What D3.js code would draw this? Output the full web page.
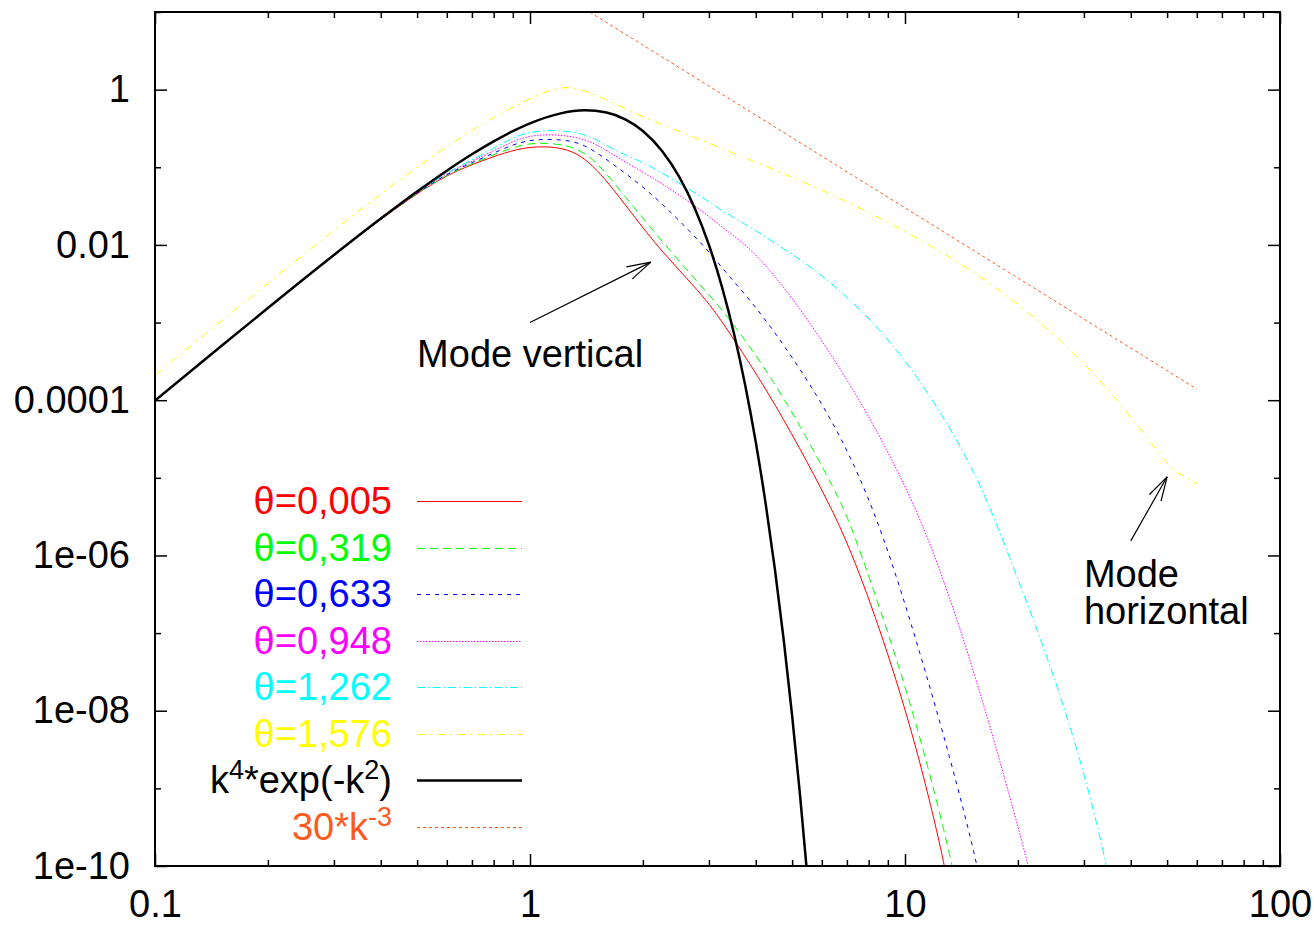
<!DOCTYPE html>
<html>
<head>
<meta charset="utf-8">
<script src="https://cdn.jsdelivr.net/npm/d3@7"></script>
<style>
  body { margin: 0; background: #fff; }
  svg text { font-family: "Liberation Sans", Arial, Helvetica, sans-serif; }
</style>
</head>
<body>
<div id="chart"></div>
<script>
// [k, value] pairs
const theta005 = [[0.1,1.0e-4],[0.15,5.0e-4],[0.2,1.55e-3],[0.3,7.4e-3],[0.4,0.0214],[0.5,0.046],[0.6,0.080],[0.75,0.124],
  [0.9,0.166],[1.0,0.182],[1.1,0.185],[1.225,0.176],[1.36,0.145],[1.509,0.093],[1.665,0.0527],[1.848,0.0273],[2.051,0.0142],
  [2.263,0.00803],[2.512,0.00461],[2.788,0.00267],[3.076,0.00151],[3.477,6.38e-4],[4.285,1.34e-4],[5.248,2.4e-5],[6.233,4.96e-6],
  [7.135,1.26e-6],[8.737,8.9e-8],[10.76,3.4e-9],[12.79,1.03e-10],[13.3,3e-11]]
const theta319 = [[0.1,1.0e-4],[0.15,5.0e-4],[0.2,1.55e-3],[0.3,7.4e-3],[0.4,0.0215],[0.5,0.0465],[0.6,0.081],[0.75,0.128],
  [0.9,0.182],[1.0,0.203],[1.1,0.205],[1.225,0.196],[1.36,0.168],[1.509,0.1146],[1.665,0.0648],[1.848,0.035],[2.051,0.0191],
  [2.263,0.0108],[2.512,0.00598],[2.788,0.00339],[3.076,0.00199],[3.477,9.77e-4],[4.285,2.38e-4],[5.248,4.78e-5],[6.577,6.25e-6],
  [7.135,2.7e-6],[8.737,1.62e-7],[10.76,7.0e-9],[13.43,1.03e-10],[14.0,3e-11]]
const theta633 = [[0.1,1.0e-4],[0.15,5.0e-4],[0.2,1.55e-3],[0.3,7.4e-3],[0.4,0.0216],[0.5,0.047],[0.6,0.083],[0.75,0.132],
  [0.9,0.198],[1.0,0.222],[1.067,0.228],[1.2,0.229],[1.36,0.2075],[1.509,0.154],[1.665,0.1096],[1.848,0.0754],[2.051,0.0504],
  [2.263,0.0329],[2.512,0.0201],[2.788,0.012],[3.076,0.00711],[3.393,0.00396],[3.79,0.00216],[4.181,0.00119],[4.72,5.4e-4],
  [5.815,1.19e-4],[7.135,2.04e-5],[8.737,1.94e-6],[10.76,7.7e-8],[13.2,2.5e-9],[15.66,9.8e-11],[16.3,3e-11]]
const theta948 = [[0.1,1.0e-4],[0.15,5.0e-4],[0.2,1.55e-3],[0.3,7.4e-3],[0.4,0.0217],[0.5,0.0475],[0.6,0.085],[0.75,0.139],
  [0.9,0.217],[1.0,0.255],[1.1,0.263],[1.2,0.261],[1.36,0.24],[1.509,0.1955],[1.665,0.146],[1.848,0.108],[2.051,0.0803],
  [2.263,0.0604],[2.512,0.0431],[2.788,0.0306],[3.076,0.0211],[3.393,0.0144],[3.86,0.0092],[4.72,0.00307],[5.815,7.39e-4],
  [7.135,1.63e-4],[8.737,2.91e-5],[10.96,3.24e-6],[13.2,2.84e-7],[16.14,1.38e-8],[21.28,1.13e-10],[22.6,3e-11]]
const theta1262 = [[0.1,1.0e-4],[0.15,5.0e-4],[0.2,1.55e-3],[0.3,7.4e-3],[0.4,0.0218],[0.5,0.048],[0.6,0.086],[0.75,0.147],
  [0.9,0.244],[1.0,0.285],[1.15,0.306],[1.36,0.279],[1.509,0.227],[1.665,0.1686],[1.848,0.137],[2.051,0.108],[2.263,0.0832],
  [2.512,0.0615],[2.788,0.045],[3.076,0.0333],[3.393,0.0241],[3.86,0.0172],[4.72,0.00906],[5.815,0.00466],[7.135,0.00197],
  [8.737,7.4e-4],[10.76,2.06e-4],[13.2,4.41e-5],[16.14,7.43e-6],[19.89,5.3e-7],[24.36,4.13e-8],[29.84,1.89e-9],[34.57,1.03e-10],[36.0,3e-11]]
const theta1576 = [[0.1,2.1e-4],[0.15,1.04e-3],[0.2,3.2e-3],[0.3,0.0155],[0.4,0.0455],[0.5,0.101],[0.6,0.186],[0.75,0.37],
  [0.9,0.6],[1.0,0.76],[1.1,0.94],[1.2,1.07],[1.3,1.06],[1.4,0.96],[1.537,0.82],[1.882,0.505],[2.319,0.334],[2.84,0.227],
  [3.477,0.153],[4.285,0.1018],[5.248,0.0672],[6.427,0.0437],[7.92,0.0269],[9.7,0.0162],[11.88,0.00934],[14.63,0.00508],
  [17.92,0.00261],[24.36,8.07e-4],[33.11,1.89e-4],[45.0,3.0e-5],[49.96,1.5e-5],[53.1,1.16e-5],[60.07,8.4e-6]]
const gaussK4 = [[0.1,9.90e-5],[0.15,4.95e-4],[0.2,1.537e-3],[0.3,7.40e-3],[0.4,0.02181],[0.5,0.04868],[0.6,0.09042],
  [0.7,0.1471],[0.8,0.2160],[0.9,0.2919],[1.0,0.3679],[1.2,0.4913],[1.4,0.5411],[1.6,0.5066],[1.8,0.4111],[2.0,0.2931],
  [2.25,0.1622],[2.5,0.07541],[2.75,0.02972],[3.0,0.009996],[3.25,2.886e-3],[3.5,7.18e-4],[3.75,1.543e-4],[4.0,2.881e-5],
  [4.25,4.66e-6],[4.5,6.57e-7],[4.75,8.08e-8],[5.0,8.68e-9],[5.25,8.13e-10],[5.5,6.66e-11]]
const powerK3 = [[1.4,10.93],[5,0.24],[20,3.75e-3],[60,1.389e-4]]

const xTicks = [0.1, 1, 10, 100]
const xTickLabels = ["0.1", "1", "10", "100"]
const yTicks = [1e-10, 1e-8, 1e-6, 1e-4, 1e-2, 1]
const yTickLabels = ["1e-10", "1e-08", "1e-06", "0.0001", "0.01", "1"]
const yMinorTicks = [1e-9, 1e-7, 1e-5, 1e-3, 1e-1, 10]

// label parts: [text, superscript?]
const series = [
  { label: [["θ=0,005"]], data: theta005, color: "#ff0000", dash: null, w: 1 },
  { label: [["θ=0,319"]], data: theta319, color: "#00ff00", dash: "8,5", w: 1 },
  { label: [["θ=0,633"]], data: theta633, color: "#0000ff", dash: "4,5", w: 1 },
  { label: [["θ=0,948"]], data: theta948, color: "#ff00ff", dash: "1.5,1.5", w: 1 },
  { label: [["θ=1,262"]], data: theta1262, color: "#00ffff", dash: "8,3,1.5,3", w: 1 },
  { label: [["θ=1,576"]], data: theta1576, color: "#ffff00", dash: "8,5,2,5", w: 1 },
  { label: [["k"], ["4", 1], ["*exp(-k"], ["2", 1], [")"]], data: gaussK4, color: "#000000", dash: null, w: 2.5, exact: true },
  { label: [["30*k"], ["-3", 1]], data: powerK3, color: "#ff5a1e", dash: "3,3", w: 1, exact: true }
]

const W = 1314, H = 925
const mLeft = 155, mRight = 1280, mTop = 12, mBottom = 866

const svg = d3.select("#chart").append("svg")
  .attr("width", W).attr("height", H)
  .style("background", "#fff")

const x = d3.scaleLog().domain([0.1, 100]).range([mLeft, mRight])
const y = d3.scaleLog().domain([1e-10, 10]).range([mBottom, mTop])

const xMinor = []
for (const d of [0.1, 1, 10]) for (let m = 2; m <= 9; m++) xMinor.push(d * m)

// axes, ticks inward on all four sides
function styleAxis(g) {
  g.select(".domain").remove()
  g.selectAll(".tick line").attr("stroke", "#000").attr("stroke-width", 1.5)
  g.selectAll("text").attr("fill", "#000").style("font-size", "38px")
}

svg.append("g").attr("transform", `translate(0,${mBottom})`)
  .call(d3.axisBottom(x).tickValues(xTicks).tickFormat((d, i) => xTickLabels[i]).tickSize(-12).tickPadding(24))
  .call(styleAxis)
svg.append("g").attr("transform", `translate(0,${mBottom})`)
  .call(d3.axisBottom(x).tickValues(xMinor).tickFormat("").tickSize(-6)).call(styleAxis)
svg.append("g").attr("transform", `translate(0,${mTop})`)
  .call(d3.axisTop(x).tickValues(xTicks).tickFormat("").tickSize(-12)).call(styleAxis)
svg.append("g").attr("transform", `translate(0,${mTop})`)
  .call(d3.axisTop(x).tickValues(xMinor).tickFormat("").tickSize(-6)).call(styleAxis)

svg.append("g").attr("transform", `translate(${mLeft},0)`)
  .call(d3.axisLeft(y).tickValues(yTicks).tickFormat((d, i) => yTickLabels[i]).tickSize(-12).tickPadding(25))
  .call(styleAxis)
svg.append("g").attr("transform", `translate(${mLeft},0)`)
  .call(d3.axisLeft(y).tickValues(yMinorTicks).tickFormat("").tickSize(-6)).call(styleAxis)
svg.append("g").attr("transform", `translate(${mRight},0)`)
  .call(d3.axisRight(y).tickValues(yTicks).tickFormat("").tickSize(-12)).call(styleAxis)
svg.append("g").attr("transform", `translate(${mRight},0)`)
  .call(d3.axisRight(y).tickValues(yMinorTicks).tickFormat("").tickSize(-6)).call(styleAxis)

svg.append("defs").append("clipPath").attr("id", "plot")
  .append("rect").attr("x", mLeft).attr("y", mTop).attr("width", mRight - mLeft).attr("height", mBottom - mTop)

// read-off curves get a B-spline to smooth reading noise, exact ones are interpolated
const smoothLine = d3.line().x(d => x(d[0])).y(d => y(d[1])).curve(d3.curveBasis)
const exactLine = d3.line().x(d => x(d[0])).y(d => y(d[1])).curve(d3.curveMonotoneX)

const curves = svg.append("g").attr("clip-path", "url(#plot)")
curves.selectAll("path")
  .data(series)
  .enter().append("path")
  .attr("d", d => (d.exact ? exactLine : smoothLine)(d.data))
  .attr("fill", "none")
  .attr("stroke", d => d.color)
  .attr("stroke-width", d => d.w)
  .attr("stroke-dasharray", d => d.dash)

// legend
const legend = svg.append("g")
series.forEach((s, i) => {
  const ly = Math.round(501 + i * 46.5) + 0.5
  const t = legend.append("text")
    .attr("x", 392).attr("y", ly + 12)
    .attr("text-anchor", "end")
    .attr("fill", s.color)
    .style("font-size", "38px")
  s.label.forEach((p, j) => {
    const prev = j > 0 ? s.label[j - 1] : null
    const ts = t.append("tspan").text(p[0])
    if (p[1]) ts.attr("dy", -14).style("font-size", "27px")
    else if (prev && prev[1]) ts.attr("dy", 14)
  })
  legend.append("line")
    .attr("x1", 417).attr("x2", 522)
    .attr("y1", ly).attr("y2", ly)
    .attr("stroke", s.color)
    .attr("stroke-width", s.w)
    .attr("stroke-dasharray", s.dash)
})

// annotations (data coordinates)
const notes = [
  { text: ["Mode vertical"], at: [0.5, 2.7e-4], tail: [1.0, 1.0e-3], tip: [2.1, 6.0e-3] },
  { text: ["Mode", "horizontal"], at: [30, 3.94e-7], tail: [40, 1.54e-6], tip: [50, 1.03e-5] }
]

function arrow(g, a, b) {
  const x1 = x(a[0]), y1 = y(a[1]), x2 = x(b[0]), y2 = y(b[1])
  const ang = Math.atan2(y2 - y1, x2 - x1)
  const len = 25, spread = 0.27
  g.append("line").attr("x1", x1).attr("y1", y1).attr("x2", x2).attr("y2", y2)
  ;[-spread, spread].forEach(s => {
    g.append("line").attr("x1", x2).attr("y1", y2)
      .attr("x2", x2 - len * Math.cos(ang + s))
      .attr("y2", y2 - len * Math.sin(ang + s))
  })
}

notes.forEach(n => {
  const g = svg.append("g").attr("stroke", "#000").attr("stroke-width", 1.2)
  arrow(g, n.tail, n.tip)
  const t = svg.append("text")
    .attr("x", x(n.at[0])).attr("y", y(n.at[1]))
    .attr("fill", "#000")
    .style("font-size", "38px")
  n.text.forEach((s, i) => {
    t.append("tspan").attr("x", x(n.at[0])).attr("dy", i ? 37 : 0).text(s)
  })
})

// frame
svg.append("rect")
  .attr("x", mLeft).attr("y", mTop)
  .attr("width", mRight - mLeft).attr("height", mBottom - mTop)
  .attr("fill", "none").attr("stroke", "#000").attr("stroke-width", 2)
</script>
</body>
</html>
